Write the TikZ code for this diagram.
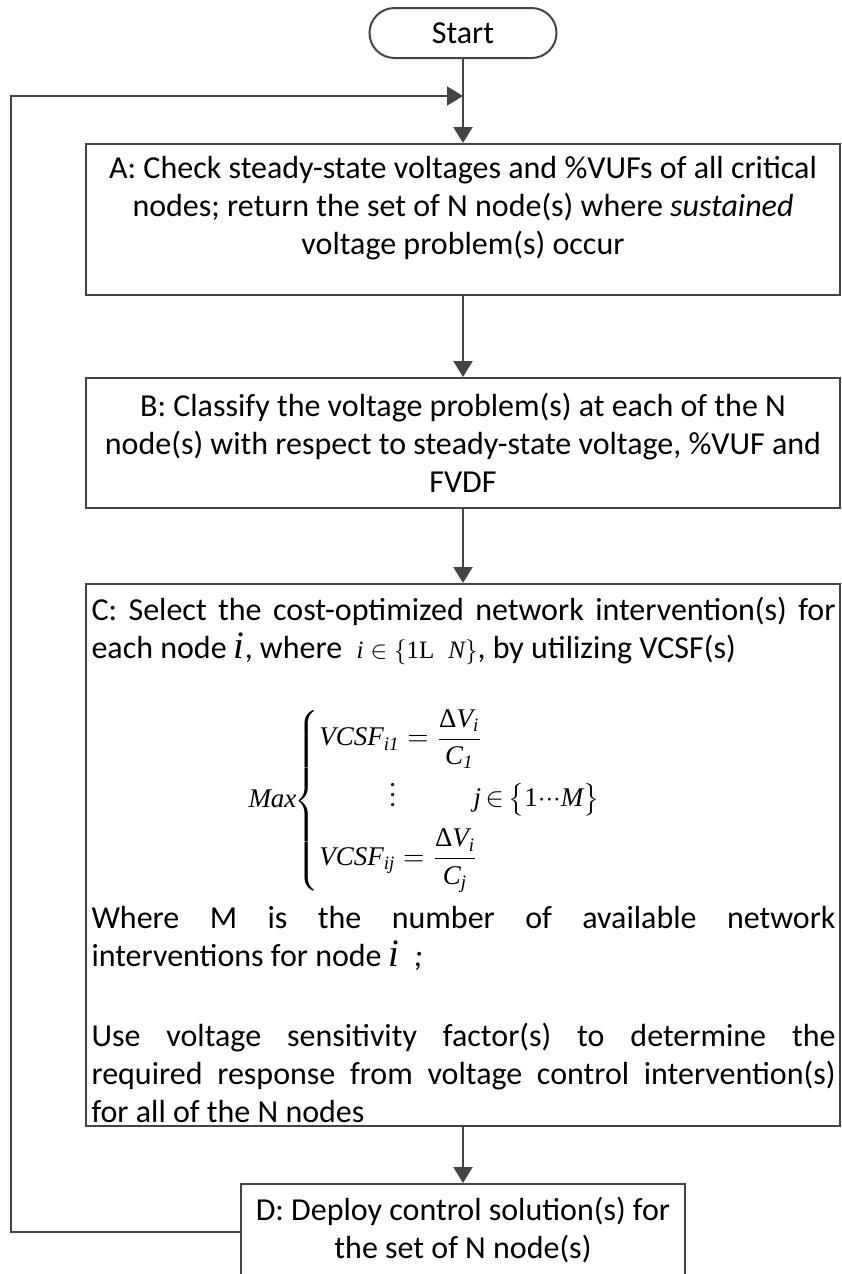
\documentclass[tikz,border=0pt]{standalone}
\usepackage{amsmath}
\usepackage{fontspec}
\setmainfont{Carlito}
\newfontfamily\tms{Liberation Serif}
\usetikzlibrary{arrows.meta,calc}
\definecolor{linec}{HTML}{444444}
\newcommand\ti[1]{\text{\tms\itshape #1}}
\newcommand\bigi{{\tms\itshape\fontsize{15.5}{15}\selectfont i}}
\begin{document}
\begin{tikzpicture}[x=0.4pt,y=-0.4pt,
  font=\fontsize{12.8}{15.2}\selectfont,
  boxnode/.style={draw=linec, line width=0.8pt, inner sep=0pt},
  txt/.style={inner sep=0pt, align=center},
  para/.style={inner sep=0pt, text width=297.6pt, align=justify, anchor=north west},
  conn/.style={draw=linec, line width=0.8pt},
  arr/.style={conn, -{Triangle[length=6.4pt,width=7.6pt]}}]
\useasboundingbox (0,0) rectangle (841,1274);

% Start
\node[boxnode, rounded corners=10pt, minimum width=74.8pt, minimum height=20pt] (S) at (463,33) {Start};

% A
\node[boxnode, minimum width=301.6pt, minimum height=60.4pt] (A) at (463,219.5) {};
\node[txt] (At) at (463,208) {A: Check steady-state voltages and \%VUFs of all critical\\
nodes; return the set of N node(s) where \textit{sustained}\\
voltage problem(s) occur};

% B
\node[boxnode, minimum width=301.6pt, minimum height=52pt] (B) at (463,443) {};
\node[txt] (Bt) at (463,443) {B: Classify the voltage problem(s) at each of the N\\
node(s) with respect to steady-state voltage, \%VUF and\\
FVDF};

% C
\node[boxnode, minimum width=301.6pt, minimum height=216.8pt] (C) at (463,855) {};
\node[para] (C1) at (91,596.5) {C: Select the cost-optimized network intervention(s) for\linebreak
each node \bigi, where\ \ {\fontsize{10}{12}\selectfont$\ti{i}\in\left\{\text{\tms 1L}\;\;\ti{N}\right\}$}, by utilizing VCSF(s)};

\node[inner sep=0pt, anchor=west, font=\fontsize{10.8}{13}\selectfont] (F) at (248,801) {$\ti{Max}\mskip-4mu\left\{\begin{array}{@{}l@{}}
\ti{VCSF}_{\ti{i1}}=\dfrac{\text{\tms Δ}\ti{V}_{\ti{i}}}{\ti{C}_{\ti{1}}}\\[5pt]
\hspace{28pt}\vdots\hspace{31pt}\ti{j}\mskip3mu{\in}\mskip3mu\bigl\{\text{\tms 1}{\cdot}{\cdot}{\cdot}\ti{M}\bigr\}\\[5pt]
\ti{VCSF}_{\ti{ij}}=\dfrac{\text{\tms Δ}\ti{V}_{\ti{i}}}{\ti{C}_{\ti{j}}}
\end{array}\right.$};

\node[para] (C3) at (91,905.5) {Where M is the number of available network\linebreak
interventions for node \bigi\ \ \textit{;}};

\node[para] (C4) at (91,1022.5) {Use voltage sensitivity factor(s) to determine the\linebreak
required response from voltage control intervention(s)\linebreak
for all of the N nodes};

% D
\node[boxnode, minimum width=177.6pt, minimum height=38.4pt] (D) at (463,1232) {};
\node[txt] (Dt) at (463,1230) {D: Deploy control solution(s) for\\the set of N node(s)};

% connectors
\coordinate (J) at (463,96);
\coordinate (fb) at (11,96);
\draw[arr] (S.south) -- (A.north);
\draw[arr] (A.south) -- (B.north);
\draw[arr] (B.south) -- (C.north);
\draw[arr] (C.south) -- (D.north);
\draw[arr] (D.west) -| (fb) -- (J);
\end{tikzpicture}
\end{document}
